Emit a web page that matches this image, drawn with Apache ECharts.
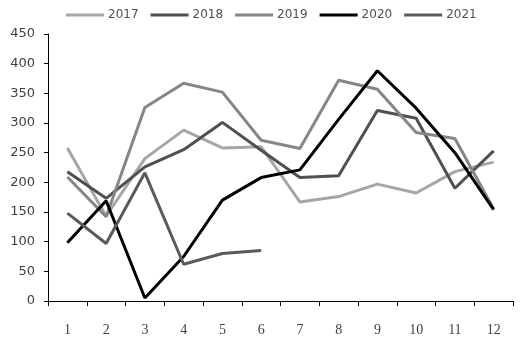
<!DOCTYPE html>
<html>
<head>
<meta charset="utf-8">
<script src="https://cdn.jsdelivr.net/npm/echarts@6/dist/echarts.min.js"></script>
<style>
  html, body { margin: 0; padding: 0; background: #fff; }
  #chart { width: 521px; height: 347px; }
</style>
</head>
<body>
<div id="chart"></div>
<script>
// Months on the x axis
var months = ['1', '2', '3', '4', '5', '6', '7', '8', '9', '10', '11', '12'];

// Monthly values per year
var y2017 = [258, 143, 240, 288, 258, 260, 167, 176, 197, 182, 218, 234];
var y2018 = [218, 173, 226, 255, 301, 254, 208, 211, 321, 308, 190, 253];
var y2019 = [209, 142, 326, 367, 352, 271, 257, 372, 357, 284, 274, 155];
var y2020 = [98, 169, 5, 75, 170, 208, 221, 306, 388, 325, 250, 154];
var y2021 = [148, 97, 216, 62, 80, 85];

var seriesNames = ['2017', '2018', '2019', '2020', '2021'];
var seriesData = [y2017, y2018, y2019, y2020, y2021];
var seriesColors = ['#a6a6a6', '#505050', '#868686', '#000000', '#5a5a5a'];

var chart = echarts.init(document.getElementById('chart'), null, { renderer: 'canvas' });

chart.setOption({
  animation: false,
  backgroundColor: '#ffffff',
  color: seriesColors,
  legend: {
    top: 4,
    left: 61,
    itemGap: 12,
    itemWidth: 38,
    itemHeight: 3,
    icon: 'rect',
    textStyle: { fontFamily: 'DejaVu Sans', fontSize: 12, color: '#505050', padding: [0, 0, 0, -1] },
    data: seriesNames
  },
  grid: { left: 48, right: 8, top: 34, bottom: 46 },
  xAxis: {
    type: 'category',
    data: months,
    boundaryGap: true,
    axisLine: { lineStyle: { color: '#000', width: 1 } },
    axisTick: { show: true, length: 5, inside: false, lineStyle: { color: '#000' } },
    axisLabel: { fontFamily: 'Liberation Serif', fontSize: 14, color: '#404040', margin: 22 },
    splitLine: { show: false }
  },
  yAxis: {
    type: 'value',
    min: 0,
    max: 450,
    interval: 50,
    axisLine: { show: true, lineStyle: { color: '#000', width: 1 } },
    axisTick: { show: true, length: 4, inside: false, lineStyle: { color: '#000' } },
    axisLabel: { fontFamily: 'DejaVu Sans', fontSize: 13, color: '#404040', margin: 13 },
    splitLine: { show: false }
  },
  series: seriesNames.map(function (name, i) {
    return {
      name: name,
      type: 'line',
      data: seriesData[i],
      symbol: 'none',
      lineStyle: { width: 3, color: seriesColors[i] },
      itemStyle: { color: seriesColors[i] }
    };
  })
});
</script>
</body>
</html>
